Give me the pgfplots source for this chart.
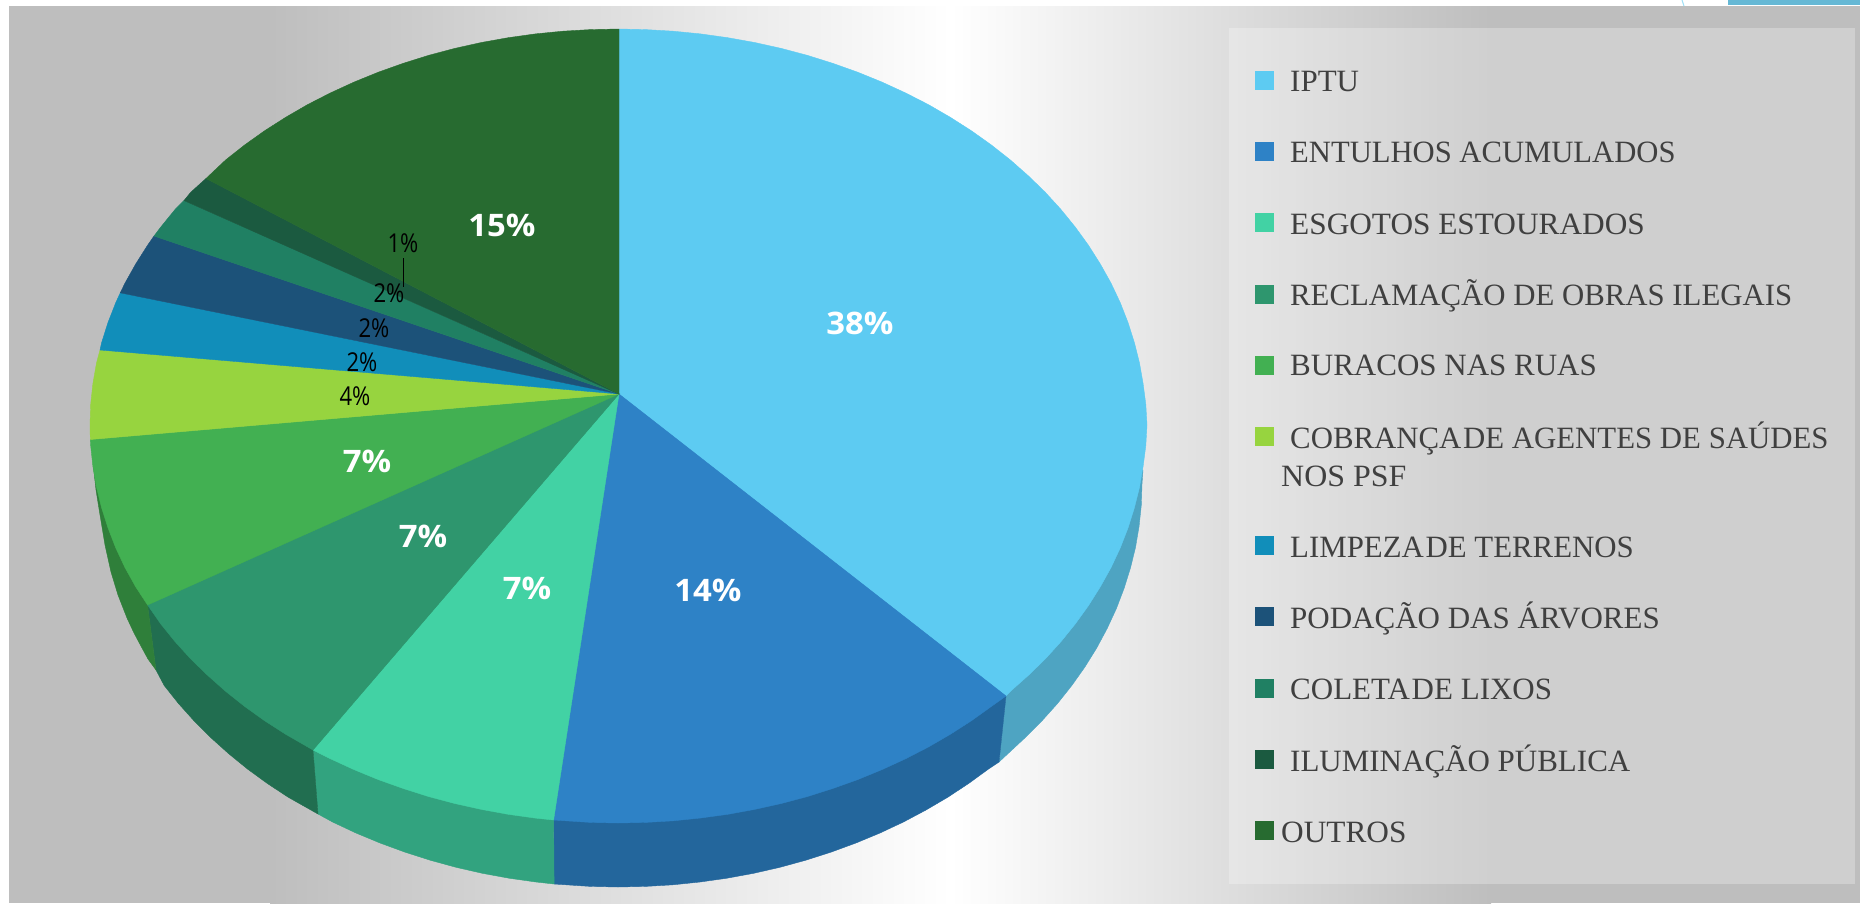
\documentclass[border=0pt]{standalone}
\usepackage{pgfplots}
\pgfplotsset{compat=1.18}
\usepackage{fontspec}
\setmainfont{Liberation Serif}
\newfontfamily\lab{Open Sans}
\definecolor{c1}{HTML}{5DCBF2}\definecolor{s1}{HTML}{4EA4C2}
\definecolor{c2}{HTML}{2E82C6}\definecolor{s2}{HTML}{23669C}
\definecolor{c3}{HTML}{42D2A4}\definecolor{s3}{HTML}{32A37F}
\definecolor{c4}{HTML}{2E966E}\definecolor{s4}{HTML}{216E50}
\definecolor{c5}{HTML}{42B052}\definecolor{s5}{HTML}{2F7F3A}
\definecolor{c6}{HTML}{97D43F}
\definecolor{c7}{HTML}{118EBA}
\definecolor{c8}{HTML}{1C5279}
\definecolor{c9}{HTML}{208063}
\definecolor{c10}{HTML}{1B5A40}
\definecolor{c11}{HTML}{276B30}
\definecolor{bgg}{HTML}{BEBEBE}
\definecolor{leg}{HTML}{404040}
\newcommand{\pw}[2]{\addplot[fill=#1,draw=#1,line width=0.4pt,mark=none,forget plot] coordinates {#2} -- cycle;}
\newcommand{\swatch}[2]{\addplot[fill=#1,draw=none,mark=none,forget plot] coordinates {(1255,#2) (1274,#2) (1274,\the\numexpr#2+19\relax) (1255,\the\numexpr#2+19\relax)} -- cycle;}
\newcommand{\legtext}[4][1]{\node[anchor=base west,inner sep=0pt,text=leg,xscale=#1,font=\fontsize{31}{31}\selectfont] at (axis cs:#2,#3) {#4};}
\newcommand{\wlab}[3]{\node[text=white,inner sep=0pt,xscale=1.06,font=\fontsize{31}{31}\selectfont\lab\bfseries] at (axis cs:#1,#2) {#3};}
\newcommand{\blab}[3]{\node[text=black,inner sep=0pt,xscale=0.85,font=\fontsize{26}{26}\selectfont\lab] at (axis cs:#1,#2) {#3};}
\begin{document}
\begin{tikzpicture}
\begin{axis}[hide axis,scale only axis,width=1860pt,height=903pt,
  xmin=0,xmax=1860,ymin=0,ymax=903,y dir=reverse,clip=true]
% page and background
\fill[white] (axis cs:0,0) rectangle (axis cs:1860,903);
\fill[bgg] (axis cs:9,6) rectangle (axis cs:271,903);
\shade[left color=bgg,right color=white] (axis cs:270,6) rectangle (axis cs:951,903);
\shade[left color=white,right color=bgg] (axis cs:950,6) rectangle (axis cs:1491,903);
\fill[bgg] (axis cs:1490,6) rectangle (axis cs:1860,903);
\fill[white,opacity=0.27] (axis cs:1229,28) rectangle (axis cs:1855,884);
\fill[c1!75!gray] (axis cs:1728,0) rectangle (axis cs:1860,5);
\draw[c1!60!white,line width=1pt] (axis cs:1682,0) -- (axis cs:1684,6);
% side faces
\pw{s1}{(619,394) (1143,470) (1142,484) (1141.3,505.1) (1139.1,526.1) (1135.6,547) (1130.5,567.8) (1124.1,588.3) (1116.4,608.5) (1107.2,628.4) (1096.7,648) (1084.9,667) (1071.8,685.5) (1057.5,703.5) (1041.9,720.9) (1025.2,737.6) (999,762) (1006,696)}
\pw{s2}{(619,394) (1006,696) (999,762) (988.5,769) (968.6,783.5) (947.8,797.2) (926,810) (903.4,822) (880,833) (855.9,843) (831.1,852.1) (805.8,860.2) (779.9,867.3) (753.6,873.3) (726.9,878.2) (700,882) (672.8,884.8) (645.4,886.4) (618,887) (590.6,886.4) (554.1,884) (553.6,820)}
\pw{s3}{(619,394) (553.6,820) (554.1,884) (536,882) (509.1,878.2) (482.4,873.3) (456.1,867.3) (430.2,860.2) (404.9,852.1) (380.1,843) (356,833) (332.6,822) (318,814) (313,750)}
\pw{s4}{(619,394) (313,750) (318,814) (288.2,797.2) (267.4,783.5) (247.5,769) (228.6,753.6) (210.8,737.6) (194.1,720.9) (178.5,703.5) (164.2,685.5) (156,670) (147.6,605)}
\pw{s5}{(619,394) (147.6,605) (156,670) (148,659) (142,648) (134,633) (127,618) (118,595) (111,572) (105,545) (100,515) (96,490) (93,463)}
% top faces
\pw{c1}{(619,394) (619,29) (645.6,29.6) (673.2,31.2) (700.6,33.9) (727.8,37.7) (754.6,42.5) (781.2,48.4) (807.2,55.3) (832.7,63.3) (857.7,72.2) (882,82.1) (905.5,92.9) (928.4,104.6) (950.3,117.3) (971.3,130.7) (991.4,145) (1010.4,160) (1028.3,175.8) (1045.2,192.2) (1060.8,209.3) (1075.2,227) (1088.4,245.2) (1100.3,264) (1111,283.1) (1120.2,302.6) (1128,322.5) (1134.4,342.7) (1139.5,363.1) (1143.1,383.6) (1145.8,404.3) (1147,425) (1145.8,445.7) (1143.1,466.4) (1139.5,487.2) (1134.4,507.7) (1128,528) (1120.2,548) (1111,567.6) (1100.3,586.8) (1088.4,605.7) (1075.2,624) (1060.8,641.8) (1045.2,659) (1028.3,675.4) (1010.4,691.3) (1006,696)}
\pw{c2}{(619,394) (1006,696) (991.4,706.4) (971.3,720.8) (950.3,734.3) (928.4,747) (905.5,758.8) (882,769.6) (857.7,779.6) (832.7,788.5) (807.2,796.6) (781.2,803.5) (754.6,809.4) (727.8,814.3) (700.6,818) (673.2,820.8) (645.6,822.4) (618,823) (590.4,822.4) (553.6,820)}
\pw{c3}{(619,394) (553.6,820) (535.4,818.1) (508.2,814.3) (481.4,809.4) (454.8,803.5) (428.8,796.6) (403.3,788.5) (378.3,779.6) (354,769.6) (330.5,758.8) (313,750)}
\pw{c4}{(619,394) (313,750) (285.7,734.3) (264.7,720.8) (244.6,706.4) (225.6,691.3) (207.7,675.4) (190.8,659) (175.2,641.8) (160.8,624) (147.6,605)}
\pw{c5}{(619,394) (147.6,605) (135.7,586.8) (125,567.6) (115.8,548) (108,527.9) (101.6,507.7) (96.5,487.2) (92.9,466.6) (90.7,445.8) (90.3,439.5)}
\pw{c6}{(619,394) (90.3,439.5) (90,425) (90.7,404.3) (92.9,383.6) (96.5,363.1) (100,350)}
\pw{c7}{(619,394) (100,350) (101.6,342.7) (108,322.5) (115.8,302.6) (120.3,292.8)}
\pw{c8}{(619,394) (120.3,292.8) (125,283.1) (135.7,264) (147.6,245.2) (154,236)}
\pw{c9}{(619,394) (154,236) (160.8,227) (175.2,209.3) (184,200.5)}
\pw{c10}{(619,394) (184,200.5) (190.8,192.2) (206,178.5)}
\pw{c11}{(619,394) (206,178.5) (225.6,160) (244.6,145) (264.7,130.7) (285.7,117.3) (307.6,104.6) (330.5,92.9) (354,82.1) (378.3,72.2) (403.3,63.3) (428.8,55.3) (454.8,48.4) (481.4,42.5) (508.2,37.7) (535.4,33.9) (562.8,31.2) (590.4,29.6) (619,29)}
% data labels
\wlab{860}{323}{38\%}
\wlab{708}{590}{14\%}
\wlab{527}{588}{7\%}
\wlab{423}{536}{7\%}
\wlab{367}{461}{7\%}
\wlab{502}{225}{15\%}
\draw[black,line width=0.8pt] (axis cs:403,258) -- (axis cs:403,287);
\blab{403}{243}{1\%}
\blab{389}{293}{2\%}
\blab{374}{328}{2\%}
\blab{362}{362}{2\%}
\blab{355}{396}{4\%}
% legend
\swatch{c1}{71}
\swatch{c2}{142}
\swatch{c3}{213}
\swatch{c4}{285}
\swatch{c5}{356}
\swatch{c6}{427}
\swatch{c7}{536}
\swatch{c8}{607}
\swatch{c9}{679}
\swatch{c10}{750}
\swatch{c11}{821}
\legtext{1290}{91}{IPTU}
\legtext[0.988]{1290}{162}{ENTULHOS ACUMULADOS}
\legtext[1.01]{1290}{234}{ESGOTOS ESTOURADOS}
\legtext[0.993]{1290}{305}{RECLAMAÇÃO DE OBRAS ILEGAIS}
\legtext{1290}{375}{BURACOS NAS RUAS}
\legtext[0.994]{1290}{448}{COBRANÇA\hspace{-6pt} DE AGENTES DE SAÚDES}
\legtext[1.03]{1281}{486}{NOS PSF}
\legtext[0.995]{1290}{557}{LIMPEZA\hspace{-6pt} DE TERRENOS}
\legtext{1290}{628}{PODAÇÃO DAS ÁRVORES}
\legtext{1290}{699}{COLETA\hspace{-6pt} DE LIXOS}
\legtext{1290}{771}{ILUMINAÇÃO PÚBLICA}
\legtext[1.01]{1281}{842}{OUTROS}
\end{axis}
\end{tikzpicture}
\end{document}
